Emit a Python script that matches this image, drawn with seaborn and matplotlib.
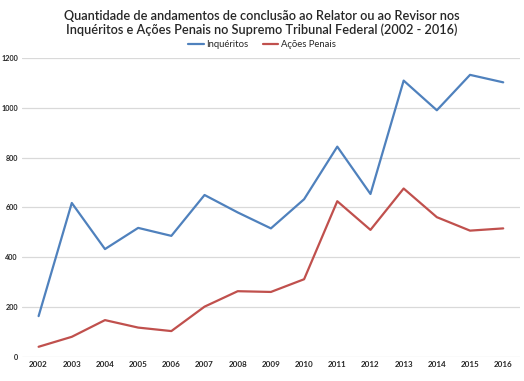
import pandas as pd
import matplotlib.pyplot as plt
import seaborn as sns

anos = list(range(2002, 2017))
inqueritos = [164, 618, 433, 518, 486, 650, 580, 516, 633, 844, 654, 1109, 990, 1132, 1102]
acoes_penais = [41, 81, 148, 118, 104, 202, 264, 261, 312, 625, 510, 676, 561, 507, 516]
series = ['Inquéritos', 'Ações Penais']
cores = ['#4F81BD', '#C0504D']

df = pd.DataFrame({'ano': anos * 2,
                   'valor': inqueritos + acoes_penais,
                   'serie': [series[0]] * len(anos) + [series[1]] * len(anos)})

sns.set_style('white')
plt.rcParams['font.family'] = ['Lato', 'DejaVu Sans']

fig = plt.figure(figsize=(5.24, 3.81), dpi=100)
ax = fig.add_axes([0.042, 0.063, 0.95, 0.785])

sns.lineplot(data=df, x='ano', y='valor', hue='serie', hue_order=series,
             palette=cores, linewidth=1.6, ax=ax, legend=False)

ax.set_xlim(2001.5, 2016.5)
ax.set_ylim(0, 1200)
ax.set_xticks(anos)
ax.set_xticklabels([str(a) for a in anos], fontsize=5.8, fontweight='bold')
ax.set_yticks(range(0, 1201, 200))
ax.set_yticklabels([str(v) for v in range(0, 1201, 200)], fontsize=5.2, fontweight='bold')
ax.tick_params(axis='both', length=0, pad=3, colors='#262626')
ax.grid(axis='y', color='#D9D9D9', linewidth=0.9)
ax.set_axisbelow(True)
for s in ax.spines.values():
    s.set_visible(False)
ax.set_xlabel('')
ax.set_ylabel('')

fig.text(0.5, 0.94, 'Quantidade de andamentos de conclusão ao Relator ou ao Revisor nos\n'
         'Inquéritos e Ações Penais no Supremo Tribunal Federal (2002 - 2016)',
         ha='center', va='center', fontsize=9.2, fontweight='semibold',
         color='#262626', linespacing=1.2)

handles = [plt.Line2D([], [], color=c, linewidth=1.6) for c in cores]
fig.legend(handles, series, loc='center', bbox_to_anchor=(0.5, 0.882), ncol=2,
           frameon=False, fontsize=6.8, handlelength=1.6, handletextpad=0.3,
           columnspacing=1.5)

fig.savefig('out.png', dpi=100)
